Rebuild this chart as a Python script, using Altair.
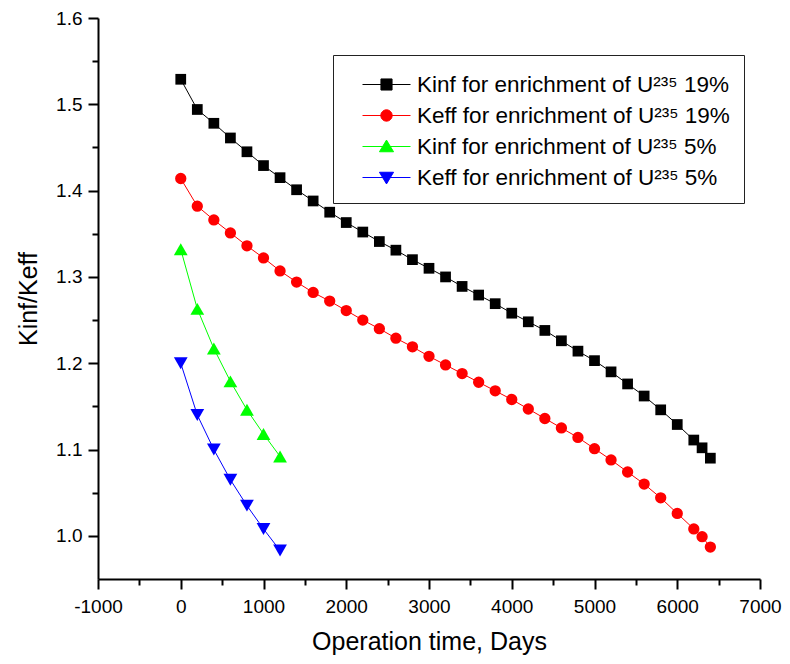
import altair as alt
import pandas as pd

# ---------------- data ----------------
series_names = [
    "Kinf for enrichment of U²³⁵ 19%",
    "Keff for enrichment of U²³⁵ 19%",
    "Kinf for enrichment of U²³⁵ 5%",
    "Keff for enrichment of U²³⁵ 5%",
]

days_19 = [0, 200, 400, 600, 800, 1000, 1200, 1400, 1600, 1800, 2000, 2200,
           2400, 2600, 2800, 3000, 3200, 3400, 3600, 3800, 4000, 4200, 4400,
           4600, 4800, 5000, 5200, 5400, 5600, 5800, 6000, 6200, 6300, 6400]
kinf_19 = [1.529, 1.494, 1.478, 1.461, 1.445, 1.429, 1.415, 1.401, 1.388,
           1.375, 1.363, 1.352, 1.341, 1.331, 1.320, 1.310, 1.300, 1.289,
           1.279, 1.269, 1.258, 1.248, 1.238, 1.226, 1.214, 1.203, 1.190,
           1.176, 1.162, 1.146, 1.129, 1.111, 1.102, 1.090]
keff_19 = [1.414, 1.382, 1.366, 1.351, 1.336, 1.322, 1.307, 1.294, 1.282,
           1.272, 1.261, 1.250, 1.240, 1.229, 1.219, 1.208, 1.198, 1.188,
           1.178, 1.168, 1.158, 1.147, 1.136, 1.125, 1.114, 1.101, 1.088,
           1.074, 1.060, 1.044, 1.026, 1.008, 0.999, 0.987]

days_5 = [0, 200, 400, 600, 800, 1000, 1200]
kinf_5 = [1.332, 1.263, 1.217, 1.179, 1.146, 1.118, 1.092]
keff_5 = [1.200, 1.140, 1.100, 1.065, 1.035, 1.008, 0.983]

x_ticks = list(range(-1000, 7001, 500))
y_ticks = [round(1.0 + 0.05 * i, 2) for i in range(13)]

# ---------------- styling ----------------
colors = ["#000000", "#ff0000", "#00ff00", "#0000ff"]
plot_shapes = ["square", "circle", "triangle-up", "triangle-down"]
plot_sizes = [115, 128, 190, 190]
LEG_SIZE = 900  # legend symbol box is sqrt(900) = 30 px; paths reach past it
legend_shapes = [
    "M-1.6,0H1.6M-0.37,-0.37H0.37V0.37H-0.37Z",
    "M-1.6,0H1.6M0.38,0A0.38,0.38,0,1,1,-0.38,0A0.38,0.38,0,1,1,0.38,0Z",
    "M-1.6,0H1.6M0,-0.43L0.47,0.35L-0.47,0.35Z",
    "M-1.6,0H1.6M0,0.43L0.47,-0.35L-0.47,-0.35Z",
]
FONT = "Liberation Sans"

frames = []
for name, xs, ys in [
    (series_names[0], days_19, kinf_19),
    (series_names[1], days_19, keff_19),
    (series_names[2], days_5, kinf_5),
    (series_names[3], days_5, keff_5),
]:
    frames.append(pd.DataFrame({"days": xs, "k": ys, "series": name}))
df = pd.concat(frames, ignore_index=True)

x_axis = alt.Axis(
    values=x_ticks,
    labelExpr="datum.value % 1000 == 0 ? '' + datum.value : ''",
    tickDash={"condition": {"test": "datum.value % 1000 != 0", "value": [6, 30]},
              "value": []},
    tickSize=10, tickWidth=2, tickColor="black",
    domainWidth=2, domainColor="black",
    labelFont=FONT, labelFontSize=19, labelColor="black", labelPadding=8,
    labelFlush=False, labelOverlap=False,
    titleFont=FONT, titleFontSize=25, titleFontWeight="normal",
    titleColor="black", titlePadding=13, grid=False,
)
y_axis = alt.Axis(
    values=y_ticks,
    format=".1f",
    labelExpr="round(datum.value * 20) % 2 == 0 ? datum.label : ''",
    tickDash={"condition": {"test": "round(datum.value * 20) % 2 != 0",
                            "value": [6, 30]},
              "value": []},
    tickSize=10, tickWidth=2, tickColor="black",
    domainWidth=2, domainColor="black",
    labelFont=FONT, labelFontSize=19, labelColor="black", labelPadding=6,
    labelFlush=False, labelOverlap=False,
    titleFont=FONT, titleFontSize=25, titleFontWeight="normal",
    titleColor="black", titlePadding=14, grid=False,
)

x_enc = alt.X("days:Q", title="Operation time, Days",
              scale=alt.Scale(domain=[-1000, 7000], nice=False, zero=False),
              axis=x_axis)
y_enc = alt.Y("k:Q", title="Kinf/Keff",
              scale=alt.Scale(domain=[0.95, 1.6], nice=False, zero=False),
              axis=y_axis)

leg = alt.Legend(
    title=None, orient="none", legendX=235, legendY=37, direction="vertical",
    labelFont=FONT, labelFontSize=22.5, labelColor="black", labelLimit=600,
    labelOffset=15, symbolOffset=24, symbolSize=LEG_SIZE, symbolStrokeWidth=1,
    rowPadding=4, padding=14, strokeColor="#222222", fillColor="white",
)

color_enc = alt.Color("series:N",
                      scale=alt.Scale(domain=series_names, range=colors),
                      legend=leg)

lines = alt.Chart(df).mark_line(strokeWidth=1).encode(
    x=x_enc, y=y_enc, color=color_enc)

point_layers = []
for name, shp, sz in zip(series_names, plot_shapes, plot_sizes):
    point_layers.append(
        alt.Chart(df).transform_filter(alt.datum.series == name)
        .mark_point(filled=True, opacity=1, shape=shp, size=sz)
        .encode(x=x_enc, y=y_enc, color=color_enc)
    )

legend_layer = alt.Chart(df).transform_filter("false").mark_point(
    filled=True, opacity=1, size=LEG_SIZE, strokeWidth=1
).encode(
    x=x_enc, y=y_enc,
    color=color_enc,
    stroke=alt.Stroke("series:N",
                      scale=alt.Scale(domain=series_names, range=colors),
                      legend=leg),
    shape=alt.Shape("series:N",
                    scale=alt.Scale(domain=series_names, range=legend_shapes),
                    legend=leg),
)

chart = alt.layer(lines, *point_layers, legend_layer).properties(
    width=662, height=561,
    autosize=alt.AutoSizeParams(type="none"),
    padding={"left": 90, "top": 10, "right": 22, "bottom": 77},
    background="white",
).configure_view(stroke=None)

chart.save("out.html", embed_options={"renderer": "svg", "actions": False})
